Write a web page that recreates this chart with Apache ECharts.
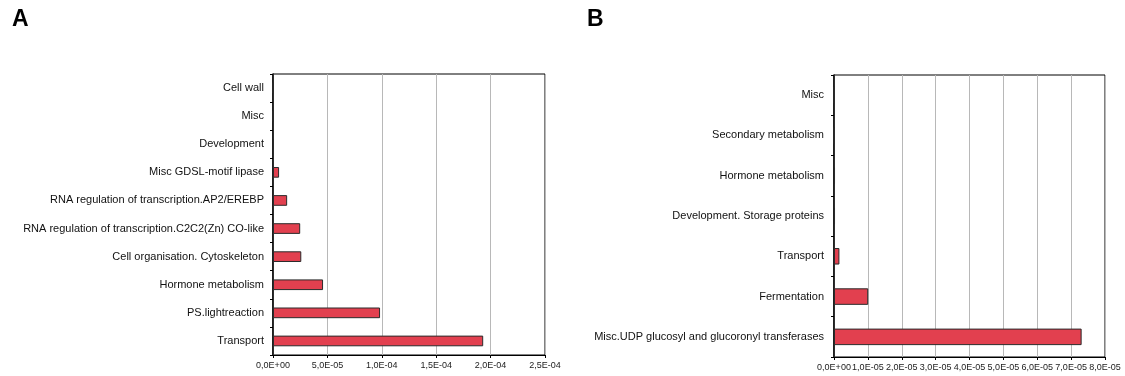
<!DOCTYPE html>
<html>
<head>
<meta charset="utf-8">
<script src="https://cdn.jsdelivr.net/npm/echarts@6/dist/echarts.min.js"></script>
<style>
  html, body { margin: 0; padding: 0; background: #fff; }
  #chart { width: 1125px; height: 376px; }
</style>
</head>
<body>
<div id="chart"></div>
<script>
// Panel A (top to bottom)
const categoriesA = [
  'Cell wall', 'Misc', 'Development', 'Misc GDSL-motif lipase',
  'RNA regulation of transcription.AP2/EREBP',
  'RNA regulation of transcription.C2C2(Zn) CO-like',
  'Cell organisation. Cytoskeleton', 'Hormone metabolism',
  'PS.lightreaction', 'Transport'
];
const valuesA = [0, 0, 8e-7, 5.6e-6, 1.3e-5, 2.5e-5, 2.6e-5, 4.6e-5, 9.84e-5, 1.932e-4];

// Panel B (top to bottom)
const categoriesB = [
  'Misc', 'Secondary metabolism', 'Hormone metabolism',
  'Development. Storage proteins', 'Transport', 'Fermentation',
  'Misc.UDP glucosyl and glucoronyl transferases'
];
const valuesB = [0, 0, 3e-7, 3e-7, 1.6e-6, 1.01e-5, 7.31e-5];

const axisMaxA = 2.5e-4, axisStepA = 5e-5;
const axisMaxB = 8e-5, axisStepB = 1e-5;
const panelTitles = ['A', 'B'];

function sciLabel(v) {
  if (Math.abs(v) < 1e-12) return '0,0E+00';
  const s = Number(v).toExponential(1); // e.g. "5.0e-5"
  const m = s.split('e');
  const mant = m[0].replace('.', ',');
  let exp = parseInt(m[1], 10);
  const sign = exp < 0 ? '-' : '+';
  exp = Math.abs(exp);
  return mant + 'E' + sign + (exp < 10 ? '0' + exp : exp);
}

const FONT = 'Liberation Sans, Arial, sans-serif';
const barColor = '#E2404F';

function xAxisCfg(gridIndex, max, step) {
  return {
    type: 'value', gridIndex, min: 0, max, interval: step,
    axisLine: { show: true, lineStyle: { color: '#000', width: 1 } },
    axisTick: { show: true, length: 3, lineStyle: { color: '#000' } },
    axisLabel: { formatter: sciLabel, fontSize: 9, color: '#222', fontFamily: FONT, margin: 6, hideOverlap: false },
    splitLine: { show: true, lineStyle: { color: '#b8b8b8', width: 1 } }
  };
}
function yAxisCfg(gridIndex, cats, margin) {
  return {
    type: 'category', gridIndex, data: cats, inverse: true,
    axisLine: { show: true, lineStyle: { color: '#000', width: 1.5 } },
    axisTick: { show: true, length: 3, lineStyle: { color: '#000' } },
    axisLabel: { fontSize: 11, color: '#111', fontFamily: FONT, margin },
    splitLine: { show: false }
  };
}
function barSeries(idx, vals, w) {
  return {
    type: 'bar', xAxisIndex: idx, yAxisIndex: idx, data: vals,
    barWidth: w,
    itemStyle: { color: barColor, borderColor: '#2a2a2a', borderWidth: 1 },
    silent: true, animation: false
  };
}

const chart = echarts.init(document.getElementById('chart'), null, { renderer: 'canvas' });
chart.setOption({
  backgroundColor: '#fff',
  animation: false,
  title: [
    { text: panelTitles[0], left: 7, top: 3, textStyle: { fontSize: 23, fontWeight: 'bold', color: '#000', fontFamily: FONT } },
    { text: panelTitles[1], left: 582, top: 3, textStyle: { fontSize: 23, fontWeight: 'bold', color: '#000', fontFamily: FONT } }
  ],
  grid: [
    { left: 273, right: 580, top: 74, bottom: 21, show: true, borderColor: '#000', borderWidth: 1, backgroundColor: 'transparent' },
    { left: 834, right: 20, top: 75, bottom: 19, show: true, borderColor: '#000', borderWidth: 1, backgroundColor: 'transparent' }
  ],
  xAxis: [xAxisCfg(0, axisMaxA, axisStepA), xAxisCfg(1, axisMaxB, axisStepB)],
  yAxis: [yAxisCfg(0, categoriesA, 9), yAxisCfg(1, categoriesB, 10)],
  series: [barSeries(0, valuesA, '38%'), barSeries(1, valuesB, '41%')]
});
</script>
</body>
</html>
